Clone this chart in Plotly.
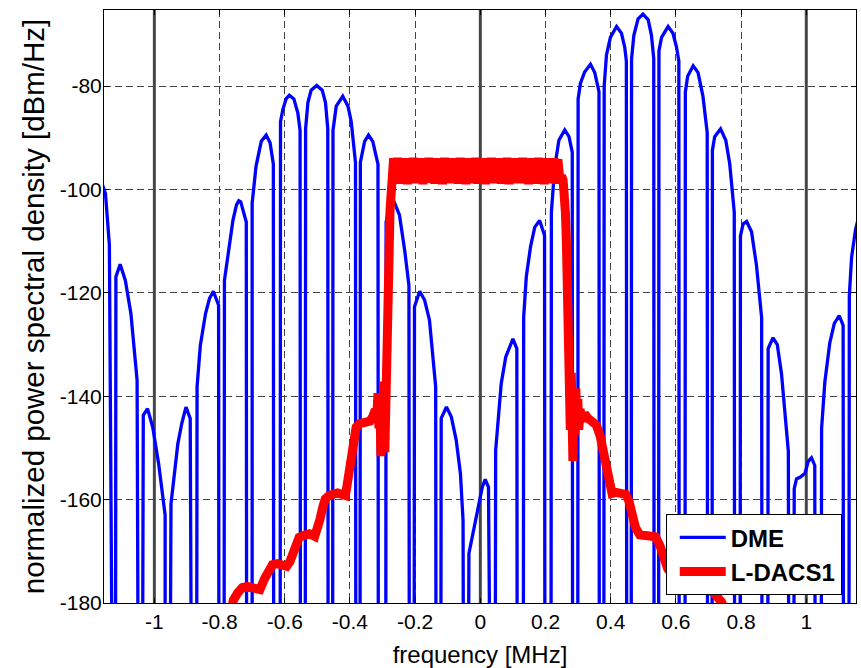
import plotly.graph_objects as go

# ---------------- DME spectrum (lobes; -190 = null below axis) -------------
dme_freq = [
    -1.160, -1.150, -1.138, -1.130,                                             # partial lobe
    -1.119, -1.118, -1.105, -1.089, -1.072, -1.053, -1.050,
    -1.036, -1.034, -1.021, -1.005, -0.987, -0.967, -0.967,
    -0.951, -0.949, -0.928, -0.916, -0.903, -0.890, -0.887,
    -0.870, -0.869, -0.859, -0.843, -0.831, -0.819, -0.803, -0.802,
    -0.786, -0.785, -0.770, -0.759, -0.748, -0.741, -0.735, -0.718, -0.717,
    -0.700, -0.700, -0.688, -0.672, -0.657, -0.645, -0.635, -0.634,
    -0.614, -0.613, -0.606, -0.596, -0.586, -0.572, -0.560, -0.553, -0.552,
    -0.537, -0.536, -0.529, -0.519, -0.502, -0.485, -0.475, -0.468, -0.467,
    -0.453, -0.452, -0.442, -0.422, -0.406, -0.396, -0.383, -0.382,
    -0.369, -0.368, -0.355, -0.343, -0.330, -0.314, -0.313,
    -0.290, -0.289, -0.281, -0.265, -0.248, -0.232, -0.219, -0.218,
    -0.203, -0.202, -0.186, -0.171, -0.156, -0.146, -0.137, -0.136,
    -0.121, -0.120, -0.104, -0.089, -0.074, -0.061, -0.053, -0.052,
    -0.036, -0.035, -0.025, -0.007, 0.006, 0.015, 0.025, 0.029,
    0.046, 0.047, 0.054, 0.064, 0.078, 0.100, 0.112, 0.113,
    0.132, 0.133, 0.141, 0.154, 0.167, 0.182, 0.197, 0.198,
    0.217, 0.218, 0.228, 0.241, 0.259, 0.272, 0.282, 0.283,
    0.299, 0.300, 0.307, 0.320, 0.338, 0.351, 0.364, 0.365,
    0.379, 0.380, 0.387, 0.399, 0.418, 0.433, 0.443, 0.448, 0.449,
    0.463, 0.464, 0.471, 0.484, 0.499, 0.515, 0.525, 0.532, 0.533,
    0.547, 0.548, 0.556, 0.576, 0.591, 0.602, 0.609, 0.610,
    0.628, 0.629, 0.636, 0.653, 0.668, 0.683, 0.696, 0.697,
    0.711, 0.712, 0.719, 0.737, 0.753, 0.765, 0.779, 0.780,
    0.797, 0.798, 0.806, 0.817, 0.832, 0.847, 0.863, 0.864,
    0.882, 0.883, 0.898, 0.911, 0.924, 0.945, 0.946,
    0.962, 0.963, 0.970, 0.983, 0.996, 1.006, 1.016, 1.026, 1.027,
    1.046, 1.047, 1.057, 1.072, 1.086, 1.101, 1.113, 1.114,
    1.131, 1.132, 1.139, 1.151, 1.160,
]
dme_psd = [
    -99.0, -100.8, -110.8, -190,
    -190, -116.9, -114.5, -117.6, -124.0, -136.9, -190,
    -190, -143.7, -142.4, -146.0, -153.0, -163.0, -190,
    -190, -160.8, -149.2, -145.3, -142.1, -144.3, -190,
    -190, -138.2, -130.2, -124.0, -121.1, -119.7, -122.4, -190,
    -190, -117.6, -110.5, -106.0, -103.0, -102.2, -102.4, -106.3, -190,
    -190, -102.7, -95.5, -90.7, -89.5, -91.0, -95.1, -190,
    -190, -86.9, -84.6, -82.5, -81.8, -82.5, -85.2, -88.6, -190,
    -190, -88.3, -83.2, -80.8, -79.9, -80.8, -83.2, -88.3, -190,
    -190, -88.6, -83.9, -82.0, -83.9, -86.9, -94.8, -190,
    -190, -94.8, -90.7, -89.5, -90.7, -95.1, -190,
    -190, -106.4, -103.6, -102.3, -105.0, -111.8, -118.6, -190,
    -190, -122.7, -119.7, -121.4, -125.3, -131.8, -138.2, -190,
    -190, -144.3, -142.1, -144.0, -148.5, -155.0, -164.0, -190,
    -190, -170.4, -167.2, -162.1, -157.6, -156.1, -157.6, -190,
    -190, -150.5, -144.7, -137.6, -132.4, -128.9, -130.8, -190,
    -190, -124.7, -116.9, -111.1, -107.3, -106.0, -108.9, -190,
    -190, -104.4, -95.8, -90.5, -88.5, -89.8, -92.8, -190,
    -190, -82.5, -79.5, -77.3, -75.8, -77.4, -81.1, -190,
    -190, -80.0, -74.0, -70.6, -68.5, -69.8, -72.5, -75.2, -190,
    -190, -74.7, -70.2, -67.0, -66.1, -67.2, -70.2, -74.7, -190,
    -190, -73.2, -70.6, -68.5, -69.8, -72.5, -75.2, -190,
    -190, -81.2, -78.1, -76.1, -77.4, -82.0, -89.0, -190,
    -190, -92.4, -89.8, -88.3, -90.5, -95.0, -104.4, -190,
    -190, -109.0, -106.7, -106.2, -108.2, -114.6, -124.8, -190,
    -190, -130.8, -128.7, -130.0, -135.7, -150.7, -190,
    -190, -157.9, -156.0, -155.6, -154.9, -152.6, -151.9, -153.4, -190,
    -190, -146.2, -137.2, -129.7, -125.9, -124.4, -126.3, -190,
    -190, -120.6, -113.1, -107.8, -105.5,
]

# ---------------- L-DACS1 spectrum ----------------
ldacs_freq = [
    -0.765, -0.758, -0.744, -0.730, -0.715, -0.700, -0.688, -0.676, -0.662, -0.650,
    -0.638, -0.622, -0.606, -0.594, -0.584, -0.576, -0.566, -0.556, -0.540, -0.524,
    -0.508, -0.499, -0.492, -0.484, -0.476, -0.464, -0.452, -0.438, -0.424, -0.414,
    -0.407, -0.401, -0.396, -0.389, -0.381, -0.370, -0.358, -0.348, -0.338, -0.329,
    -0.322, -0.318, -0.314, -0.311, -0.308, -0.305, -0.302, -0.299, -0.296, -0.293,
    -0.290, -0.287, -0.285, -0.282, -0.280, -0.277, -0.274, -0.270,
    # flat in-band part
    -0.266, -0.260, -0.254, -0.248, -0.242, -0.236, -0.230, -0.224, -0.218, -0.212,
    -0.206, -0.200, -0.194, -0.188, -0.182, -0.176, -0.170, -0.164, -0.158, -0.152,
    -0.146, -0.140, -0.134, -0.128, -0.122, -0.116, -0.110, -0.104, -0.098, -0.092,
    -0.086, -0.080, -0.074, -0.068, -0.062, -0.056, -0.050, -0.044, -0.038, -0.032,
    -0.026, -0.020, -0.014, -0.008, -0.002, 0.004, 0.010, 0.016, 0.022, 0.028,
    0.034, 0.040, 0.046, 0.052, 0.058, 0.064, 0.070, 0.076, 0.082, 0.088,
    0.094, 0.100, 0.106, 0.112, 0.118, 0.124, 0.130, 0.136, 0.142, 0.148,
    0.154, 0.160, 0.166, 0.172, 0.178, 0.184, 0.190, 0.196, 0.202, 0.208,
    0.214, 0.220, 0.226, 0.232, 0.238, 0.244,
    # upper edge and skirt
    0.249, 0.254, 0.258, 0.261, 0.264, 0.266, 0.268, 0.270, 0.273, 0.276,
    0.279, 0.282, 0.284, 0.287, 0.290, 0.293, 0.296, 0.299, 0.302, 0.306,
    0.312, 0.320, 0.331, 0.343, 0.356, 0.368, 0.378, 0.388, 0.397, 0.404,
    0.416, 0.430, 0.446, 0.456, 0.466, 0.476, 0.489, 0.505, 0.522, 0.538,
    0.551, 0.562, 0.575, 0.590, 0.610, 0.630, 0.655, 0.680, 0.700, 0.715,
    0.728, 0.740, 0.752,
]
ldacs_psd = [
    -182.0, -179.5, -178.0, -177.0, -176.8, -177.0, -177.0, -177.4, -175.3, -173.4,
    -172.6, -172.4, -172.6, -172.9, -172.0, -170.2, -168.6, -167.3, -166.9, -166.6,
    -167.1, -165.6, -163.8, -161.6, -159.9, -159.2, -158.9, -158.7, -159.0, -159.2,
    -156.5, -153.6, -150.4, -147.8, -146.0, -145.3, -145.1, -145.3, -144.8, -143.8,
    -142.6, -144.6, -139.4, -146.2, -141.2, -151.6, -140.4, -148.2, -137.2, -150.8,
    -134.0, -145.0, -131.0, -125.0, -113.0, -104.0, -98.3, -95.5,
    -94.0, -98.7, -93.9, -98.9, -94.1, -98.6, -94.0, -99.0, -94.2, -98.7,
    -93.9, -98.8, -94.1, -98.6, -94.0, -99.0, -94.1, -98.7, -93.9, -98.6,
    -94.2, -98.9, -94.0, -98.6, -94.1, -99.0, -93.9, -98.7, -94.2, -98.8,
    -94.0, -98.6, -94.2, -98.9, -93.9, -98.7, -94.1, -99.0, -94.0, -98.6,
    -94.2, -98.8, -93.9, -98.9, -94.1, -98.6, -94.0, -99.0, -94.2, -98.7,
    -93.9, -98.8, -94.1, -98.6, -94.0, -98.9, -94.2, -98.7, -93.9, -99.0,
    -94.1, -98.8, -94.0, -98.6, -94.2, -98.8, -93.9, -98.7, -94.1, -99.0,
    -94.0, -98.6, -94.2, -98.9, -93.9, -98.7, -94.1, -99.0, -94.0, -98.8,
    -94.1, -98.7, -94.0, -98.9, -94.2, -98.4,
    -97.4, -98.2, -100.2, -104.5, -110.0, -119.0, -130.5, -138.5, -133.5, -146.5,
    -135.5, -150.5, -152.5, -139.5, -147.5, -138.5, -145.5, -140.5, -146.5, -142.5,
    -144.8, -143.4, -144.3, -144.8, -145.6, -147.8, -150.8, -154.6, -157.6, -158.8,
    -158.6, -158.7, -159.0, -160.3, -162.8, -165.4, -166.8, -166.9, -166.7, -167.2,
    -168.9, -171.5, -173.4, -174.5, -175.4, -176.4, -177.0, -177.2, -177.4, -178.0,
    -178.8, -179.8, -181.5,
]

x_tick_vals = [-1, -0.8, -0.6, -0.4, -0.2, 0, 0.2, 0.4, 0.6, 0.8, 1]
x_tick_text = ["-1", "-0.8", "-0.6", "-0.4", "-0.2", "0", "0.2", "0.4", "0.6", "0.8", "1"]
y_tick_vals = [-180, -160, -140, -120, -100, -80]
y_tick_text = ["-180", "-160", "-140", "-120", "-100", "-80"]
solid_ref_lines = [-1, 0, 1]
x_range = [-1.1545, 1.1525]
y_range = [-180, -65.3]

assert len(dme_freq) == len(dme_psd)
assert len(ldacs_freq) == len(ldacs_psd)

FONT = "Liberation Sans, Arial, sans-serif"

fig = go.Figure()
fig.add_trace(go.Scatter(x=dme_freq, y=dme_psd, mode="lines", name="DME",
                         line=dict(color="#0000ff", width=3.3)))
fig.add_trace(go.Scatter(x=ldacs_freq, y=ldacs_psd, mode="lines", name="L-DACS1",
                         line=dict(color="#ff0000", width=9)))

for v in solid_ref_lines:
    fig.add_shape(type="line", xref="x", yref="paper", x0=v, x1=v, y0=0, y1=1,
                  line=dict(color="#474747", width=3), layer="between")

fig.update_layout(
    width=861, height=668,
    margin=dict(l=104, r=5, t=10, b=65),
    plot_bgcolor="white", paper_bgcolor="white",
    font=dict(family=FONT, size=21, color="black"),
    showlegend=True,
    legend=dict(x=0.747, y=0.013, xanchor="left", yanchor="bottom",
                bgcolor="white", bordercolor="black", borderwidth=1,
                font=dict(family=FONT, size=24, color="black", weight="bold"),
                indentation=8, itemwidth=46, tracegroupgap=0),
)
fig.update_xaxes(
    range=x_range, tickmode="array", tickvals=x_tick_vals, ticktext=x_tick_text,
    showline=True, linecolor="black", linewidth=1, mirror="ticks",
    ticks="inside", ticklen=5, tickcolor="black",
    showgrid=True, gridcolor="#444444", gridwidth=1, griddash="7px,4px",
    zeroline=False, ticklabelstandoff=0, automargin=False,
    title=dict(text="frequency [MHz]", font=dict(family=FONT, size=24), standoff=15),
)
fig.update_yaxes(
    range=y_range, tickmode="array", tickvals=y_tick_vals, ticktext=y_tick_text,
    showline=True, linecolor="black", linewidth=1, mirror="ticks",
    ticks="inside", ticklen=5, tickcolor="black",
    showgrid=True, gridcolor="#444444", gridwidth=1, griddash="7px,4px",
    zeroline=False, ticklabelstandoff=-3, automargin=False,
    title=dict(text="normalized power spectral density [dBm/Hz]",
               font=dict(family=FONT, size=29.5), standoff=6),
)

fig.write_html("out.html",
               config={"displayModeBar": False},
               post_script="document.body.style.margin='0';document.body.style.overflow='hidden';")
